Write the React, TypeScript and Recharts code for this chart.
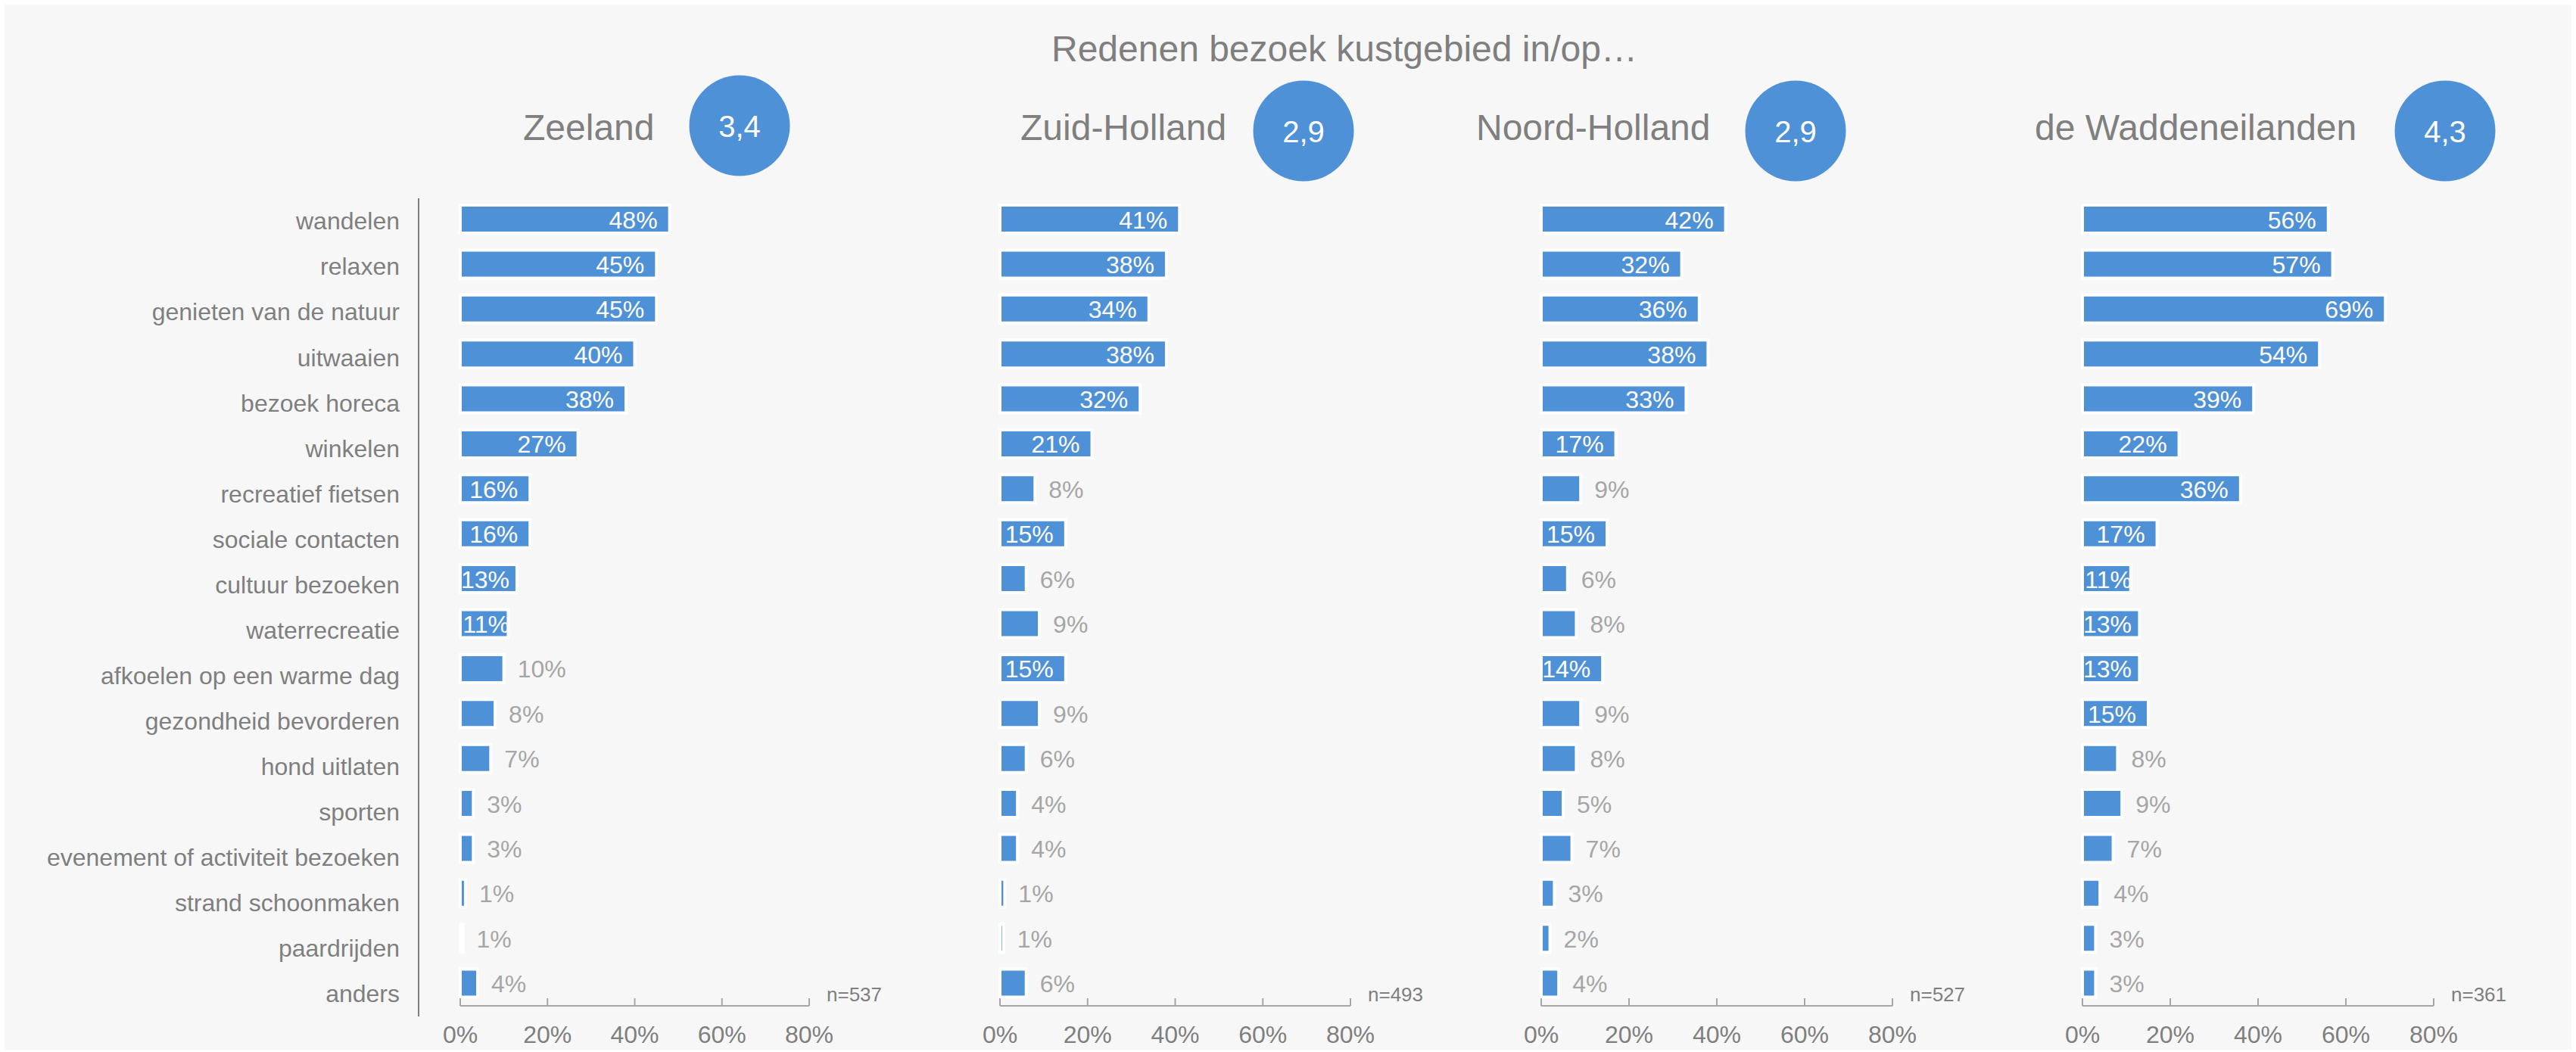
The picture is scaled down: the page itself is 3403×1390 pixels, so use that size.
import React from "react";
import { BarChart, Bar, XAxis, YAxis, LabelList } from "recharts";

const categories = [
  "wandelen",
  "relaxen",
  "genieten van de natuur",
  "uitwaaien",
  "bezoek horeca",
  "winkelen",
  "recreatief fietsen",
  "sociale contacten",
  "cultuur bezoeken",
  "waterrecreatie",
  "afkoelen op een warme dag",
  "gezondheid bevorderen",
  "hond uitlaten",
  "sporten",
  "evenement of activiteit bezoeken",
  "strand schoonmaken",
  "paardrijden",
  "anders",
];

const regions = ["Zeeland", "Zuid-Holland", "Noord-Holland", "de Waddeneilanden"];
const scores = ["3,4", "2,9", "2,9", "4,3"];
const sampleSizes = [537, 493, 527, 361];

const zeeland = [48, 45, 45, 40, 38, 27, 16, 16, 13, 11, 10, 8, 7, 3, 3, 1.2, 0.6, 4];
const zuidHolland = [41, 38, 34, 38, 32, 21, 8, 15, 6, 9, 15, 9, 6, 4, 4, 1.1, 0.8, 6];
const noordHolland = [42, 32, 36, 38, 33, 17, 9, 15, 6, 8, 14, 9, 8, 5, 7, 3, 2, 4];
const waddeneilanden = [56, 57, 69, 54, 39, 22, 36, 17, 11, 13, 13, 15, 8, 9, 7, 4, 3, 3];

const xTicks = [0, 20, 40, 60, 80];

const series = [zeeland, zuidHolland, noordHolland, waddeneilanden];

// layout of the four panels (px on the 3403x1390 canvas)
const panelLeft = [608, 1321, 2036, 2751];
const panelWidth = [461, 463, 464, 464];
const titleX = [691, 1348, 1950, 2688];
const circleX = [977, 1722, 2372, 3230];
const circleY = [166, 173, 173, 173];

const BLUE = "#4f91d6";
const GREY = "#7f7f7f";
const LIGHT = "#a6a6a6";
const FONT = "'Liberation Sans', Arial, sans-serif";

const BarValue = (props: any) => {
  const x = Number(props.x);
  const y = Number(props.y);
  const width = Number(props.width);
  const height = Number(props.height);
  const pct = Math.round(Number(props.value));
  const text = `${pct}%`;
  const base = y + height / 2 + 12;
  if (pct >= 11) {
    const textW = (String(pct).length * 0.556 + 0.889) * 32;
    const right = Math.max(x + width - 16, x + textW + 1);
    return (
      <text x={right} y={base} textAnchor="end" fill="#ffffff" fontSize={32}>
        {text}
      </text>
    );
  }
  return (
    <text x={x + width + 18} y={base} fill={LIGHT} fontSize={32}>
      {text}
    </text>
  );
};

function Panel({ idx }: { idx: number }) {
  const data = categories.map((cat, i) => ({ cat, v: series[idx][i] }));
  const left = 40;
  const right = 90;
  return (
    <div style={{ position: "absolute", left: panelLeft[idx] - left, top: 0 }}>
      <BarChart
        width={panelWidth[idx] + left + right}
        height={1390}
        data={data}
        layout="vertical"
        margin={{ top: 260, right, bottom: 0, left }}
      >
        <XAxis
          type="number"
          domain={[0, 80]}
          ticks={xTicks}
          interval={0}
          height={61}
          tickFormatter={(v) => `${v}%`}
          tick={{ fill: GREY, fontSize: 32 }}
          tickSize={-10}
          tickMargin={36}
          axisLine={{ stroke: LIGHT, strokeWidth: 2 }}
          tickLine={{ stroke: LIGHT, strokeWidth: 2 }}
        />
        <YAxis type="category" dataKey="cat" hide width={0} />
        <Bar
          dataKey="v"
          fill={BLUE}
          stroke="#ffffff"
          strokeWidth={4}
          barSize={37}
          isAnimationActive={false}
        >
          <LabelList dataKey="v" content={BarValue} />
        </Bar>
      </BarChart>
    </div>
  );
}

function CategoryAxis() {
  const data = categories.map((cat) => ({ cat }));
  return (
    <div style={{ position: "absolute", left: 0, top: 0 }}>
      <BarChart
        width={560}
        height={1390}
        data={data}
        layout="vertical"
        margin={{ top: 262, right: 0, bottom: 47, left: 8 }}
      >
        <XAxis type="number" hide />
        <YAxis
          type="category"
          dataKey="cat"
          width={545}
          interval={0}
          tickLine={false}
          tickMargin={19}
          tick={{ fill: GREY, fontSize: 32 }}
          axisLine={{ stroke: GREY, strokeWidth: 2 }}
        />
      </BarChart>
    </div>
  );
}

export default function App() {
  return (
    <div
      style={{
        position: "absolute",
        left: 0,
        top: 0,
        width: 3403,
        height: 1390,
        background: "#ffffff",
        fontFamily: FONT,
        overflow: "hidden",
      }}
    >
      <div
        style={{
          position: "absolute",
          left: 6,
          top: 6,
          width: 3391,
          height: 1381,
          background: "#f7f7f7",
        }}
      />
      <CategoryAxis />
      {regions.map((_, i) => (
        <Panel key={i} idx={i} />
      ))}
      <svg
        width={3403}
        height={1390}
        style={{ position: "absolute", left: 0, top: 0, pointerEvents: "none" }}
      >
        <text x={1389} y={81} fontSize={48} fill={GREY}>
          Redenen bezoek kustgebied in/op…
        </text>
        {regions.map((name, i) => (
          <g key={name}>
            <text x={titleX[i]} y={184.5} fontSize={48} fill={GREY}>
              {name}
            </text>
            <circle cx={circleX[i]} cy={circleY[i]} r={66.5} fill={BLUE} />
            <text
              x={circleX[i]}
              y={circleY[i] + 15}
              textAnchor="middle"
              fontSize={40}
              fill="#ffffff"
            >
              {scores[i]}
            </text>
            <text
              x={panelLeft[i] + panelWidth[i] + 23}
              y={1323}
              fontSize={26}
              fill={GREY}
            >
              {`n=${sampleSizes[i]}`}
            </text>
          </g>
        ))}
      </svg>
    </div>
  );
}
